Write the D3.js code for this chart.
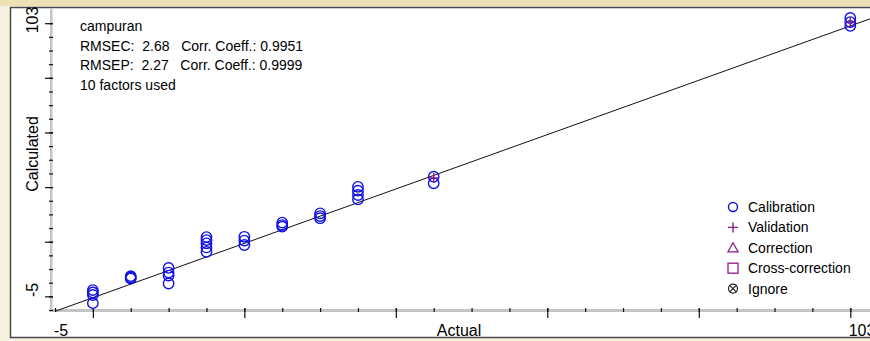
<!DOCTYPE html>
<html>
<head>
<meta charset="utf-8">
<script src="https://cdn.jsdelivr.net/npm/d3@7"></script>
<style>
  html, body { margin: 0; padding: 0; background: #f7f1df; overflow: hidden; }
  svg { display: block; font-family: "Liberation Sans", Arial, sans-serif; }
</style>
</head>
<body>
<div id="chart"></div>
<script>
// values
var calActual = [0, 0, 0, 0, 5, 5, 5, 10, 10, 10, 10, 15, 15, 15, 15, 15, 20, 20, 20, 25, 25, 25, 30, 30, 30, 35, 35, 35, 35, 45, 45, 100, 100, 100]
var calCalc   = [2.3, 1.4, 0.5, -2.5, 7.4, 6.9, 6.5, 10.4, 8.7, 7.6, 4.7, 21.7, 20.6, 19.4, 17.9, 16.3, 21.8, 20.4, 18.8, 27, 26.1, 25.5, 30.4, 29.4, 28.6, 40.1, 38.7, 37.1, 35.5, 43.8, 41.4, 101.9, 100.4, 99]
var valActual = [45, 100]
var valCalc   = [43.3, 100.4]
var fitSlope = 0.995, fitIntercept = -0.5

var infoLines = ["campuran", "RMSEC:  2.68   Corr. Coeff.: 0.9951", "RMSEP:  2.27   Corr. Coeff.: 0.9999", "10 factors used"]
var legendNames = ["Calibration", "Validation", "Correction", "Cross-correction", "Ignore"]
var axisEnds = [-5, 103]
var minorTicks = [-5, 0, 5, 10, 15, 20, 25, 30, 35, 40, 45, 50, 55, 60, 65, 70, 75, 80, 85, 90, 95, 100]
var majorTicks = [0, 20, 40, 60, 80, 100]

var width = 870, height = 341
var blue = "#1010e8", purple = "#8a1a8a"

var svg = d3.select("#chart").append("svg")
	.attr("width", width)
	.attr("height", height)

// window frame
svg.append("rect").attr("x", 0).attr("y", 0).attr("width", width).attr("height", 6).attr("fill", "#efe1b6")
svg.append("rect")
	.attr("x", 10.5).attr("y", 7.5)
	.attr("width", width + 10).attr("height", 330)
	.attr("fill", "#ffffff")
	.attr("stroke", "#4a4a4a")
	.attr("stroke-width", 1.5)

var x = d3.scaleLinear().domain(axisEnds).range([55, 873])
var y = d3.scaleLinear().domain(axisEnds).range([310, 15])

// gray axis bands
svg.append("rect").attr("x", 50).attr("y", 8).attr("width", 2.5).attr("height", 304).attr("fill", "#c4c4c4")
svg.append("rect").attr("x", 50).attr("y", 309).attr("width", width).attr("height", 3).attr("fill", "#c4c4c4")

function tickAxis(axis, t, size) {
	var g = svg.append("g").attr("transform", t).call(axis.tickSize(size).tickFormat(""))
	g.select(".domain").remove()
	g.selectAll("line").attr("stroke", "#111").attr("stroke-width", 1.2)
}

tickAxis(d3.axisBottom(x).tickValues(minorTicks), "translate(0,308)", 4)
tickAxis(d3.axisBottom(x).tickValues(majorTicks), "translate(0,308)", 10)
tickAxis(d3.axisLeft(y).tickValues(minorTicks), "translate(53,0)", 4)
tickAxis(d3.axisLeft(y).tickValues(majorTicks), "translate(53,0)", 8)

// axis labels
svg.append("text").attr("x", x(-5) + 6).attr("y", 336).attr("text-anchor", "middle")
	.attr("font-size", 16).text(axisEnds[0])
svg.append("text").attr("x", x(103) - 11).attr("y", 336).attr("text-anchor", "middle")
	.attr("font-size", 16).text(axisEnds[1])
svg.append("text").attr("x", 459).attr("y", 336).attr("text-anchor", "middle")
	.attr("font-size", 16).text("Actual")

svg.append("text").attr("transform", "translate(38," + 290 + ") rotate(-90)")
	.attr("text-anchor", "middle").attr("font-size", 16).text(axisEnds[0])
svg.append("text").attr("transform", "translate(38," + 20 + ") rotate(-90)")
	.attr("text-anchor", "middle").attr("font-size", 16).text(axisEnds[1])
svg.append("text").attr("transform", "translate(38," + 154 + ") rotate(-90)")
	.attr("text-anchor", "middle").attr("font-size", 16).text("Calculated")

// fitted line
svg.append("line")
	.attr("x1", x(-5)).attr("y1", y(fitIntercept + fitSlope * -5))
	.attr("x2", x(103)).attr("y2", y(fitIntercept + fitSlope * 103))
	.attr("stroke", "#111").attr("stroke-width", 1)

// calibration points
svg.selectAll(".cal")
	.data(calActual)
	.enter().append("circle")
	.attr("class", "cal")
	.attr("cx", function(d) { return x(d) })
	.attr("cy", function(d, i) { return y(calCalc[i]) })
	.attr("r", 5.2)
	.attr("fill", "none")
	.attr("stroke", blue)
	.attr("stroke-width", 1.4)

// validation points
svg.selectAll(".val")
	.data(valActual)
	.enter().append("path")
	.attr("class", "val")
	.attr("d", function(d, i) {
		var cx = x(d), cy = y(valCalc[i])
		return "M" + (cx - 5) + "," + cy + "H" + (cx + 5) + "M" + cx + "," + (cy - 5) + "V" + (cy + 5)
	})
	.attr("stroke", purple)
	.attr("stroke-width", 1.4)

// info text
svg.selectAll(".info")
	.data(infoLines)
	.enter().append("text")
	.attr("class", "info")
	.attr("x", 80)
	.attr("y", function(d, i) { return 31 + i * 19.7 })
	.attr("font-size", 14)
	.attr("xml:space", "preserve")
	.style("white-space", "pre")
	.text(function(d) { return d })

// legend
var lg = svg.selectAll(".lg")
	.data(legendNames)
	.enter().append("g")
	.attr("class", "lg")
	.attr("transform", function(d, i) { return "translate(733," + (207 + i * 20.4) + ")" })

lg.append("text").attr("x", 15).attr("y", 5).attr("font-size", 14).text(function(d) { return d })

lg.each(function(d, i) {
	var g = d3.select(this)
	if (i == 0) g.append("circle").attr("r", 4.5).attr("fill", "none").attr("stroke", blue).attr("stroke-width", 1.4)
	if (i == 1) g.append("path").attr("d", "M-5,0H5M0,-5V5").attr("stroke", purple).attr("stroke-width", 1.4)
	if (i == 2) g.append("path").attr("d", "M0,-5L5,4H-5Z").attr("fill", "none").attr("stroke", purple).attr("stroke-width", 1.3)
	if (i == 3) g.append("rect").attr("x", -5).attr("y", -5).attr("width", 10).attr("height", 10).attr("fill", "none").attr("stroke", purple).attr("stroke-width", 1.3)
	if (i == 4) {
		g.append("circle").attr("r", 4.5).attr("fill", "none").attr("stroke", "#222").attr("stroke-width", 1.2)
		g.append("path").attr("d", "M-3.5,-3.5L3.5,3.5M3.5,-3.5L-3.5,3.5").attr("stroke", "#222").attr("stroke-width", 1.2)
	}
})
</script>
</body>
</html>
